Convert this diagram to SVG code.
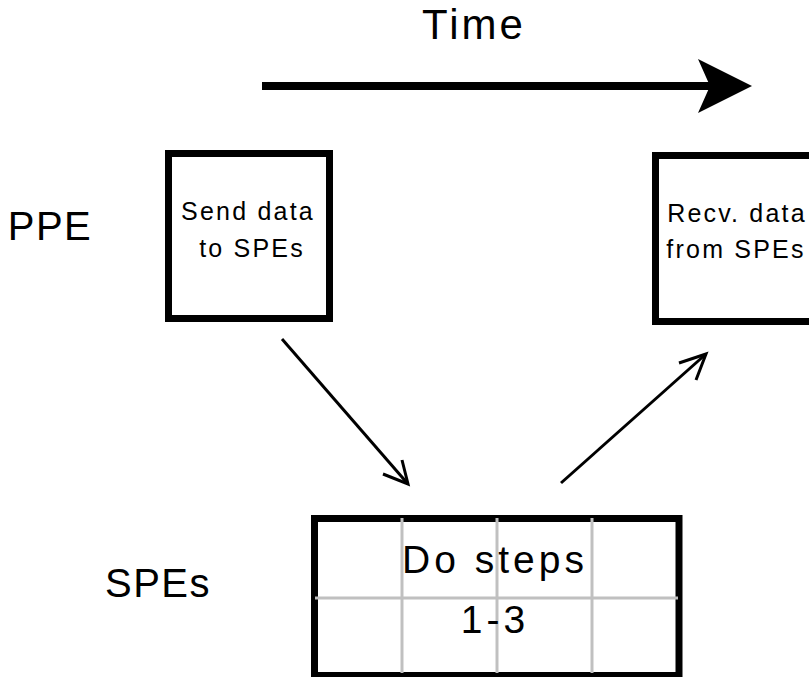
<svg xmlns="http://www.w3.org/2000/svg" width="809" height="677" viewBox="0 0 809 677">
  <defs>
    <style>
      text { font-family: "Liberation Sans", Arial, sans-serif; fill: #000; text-anchor: middle; }
      .big { font-size: 40px; letter-spacing: 1.5px; }
      .title { font-size: 42px; letter-spacing: 3px; }
      .small { font-size: 25px; letter-spacing: 2.2px; }
      .cell { font-size: 39px; letter-spacing: 4px; }
      .box { fill: #fff; stroke: #000; stroke-width: 7; }
      .grid { stroke: #c0c0c0; stroke-width: 3; }
      .conn { stroke: #000; stroke-width: 3; fill: none; }
    </style>
  </defs>
  <rect width="809" height="677" fill="#fff"/>

  <!-- Time axis -->
  <g id="time-axis">
    <text class="title" x="474" y="39">Time</text>
    <line x1="262" y1="86" x2="712" y2="86" stroke="#000" stroke-width="8"/>
    <polygon points="752,86 698,59 710,86 698,113" fill="#000"/>
  </g>

  <!-- row labels -->
  <g id="label-ppe"><text class="big" x="50" y="240">PPE</text></g>
  <g id="label-spes"><text class="big" x="158" y="597">SPEs</text></g>

  <!-- PPE: send -->
  <g id="ppe-send">
    <rect class="box" x="168.5" y="153.5" width="161" height="165"/>
    <text class="small" x="248" y="220">Send data</text>
    <text class="small" x="252" y="257">to SPEs</text>
  </g>

  <!-- PPE: receive -->
  <g id="ppe-recv">
    <rect class="box" x="655.5" y="155.5" width="170" height="166"/>
    <text class="small" x="737" y="222">Recv. data</text>
    <text class="small" x="736" y="258">from SPEs</text>
  </g>

  <!-- SPEs work block -->
  <g id="spe-work">
    <rect class="box" x="314.5" y="518.5" width="364.5" height="157"/>
    <line class="grid" x1="315" y1="598" x2="678" y2="598"/>
    <line class="grid" x1="402" y1="518" x2="402" y2="673"/>
    <line class="grid" x1="497" y1="518" x2="497" y2="673"/>
    <line class="grid" x1="592" y1="518" x2="592" y2="673"/>
    <text class="cell" x="495" y="573">Do steps</text>
    <text class="cell" x="495" y="633">1-3</text>
  </g>

  <!-- connectors -->
  <g id="connectors">
    <line class="conn" x1="282" y1="339" x2="408" y2="484"/>
    <polyline class="conn" points="383,474 408,484 402,460"/>
    <line class="conn" x1="561" y1="483" x2="706" y2="354"/>
    <polyline class="conn" points="679,363 706,354 696,380"/>
  </g>
</svg>
